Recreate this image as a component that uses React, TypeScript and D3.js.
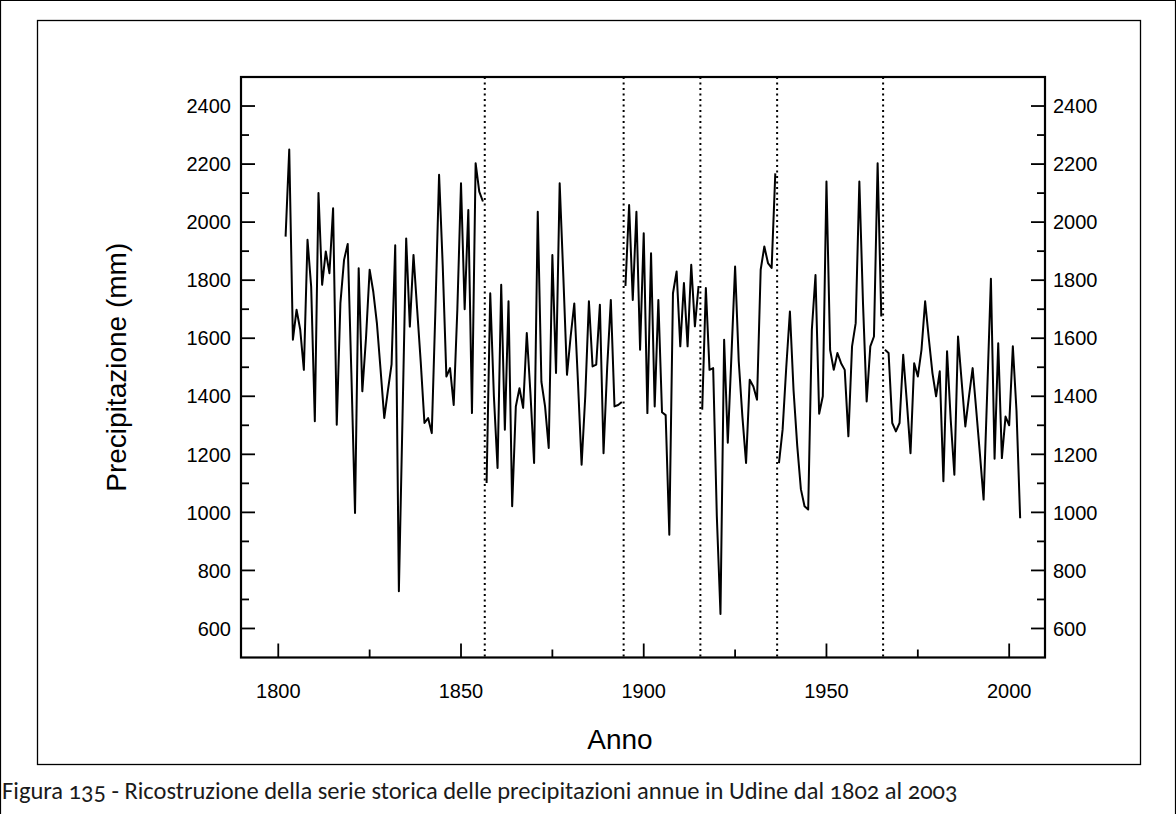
import React from "react";
import * as d3 from "d3";

// Annual precipitation (mm), Udine; the series is broken at the dotted lines
const seg1Start = 1802;
const seg1Values = [
  1950, 2250, 1595, 1698, 1630, 1491, 1939, 1778, 1314, 2100,
  1784, 1899, 1824, 2048, 1302, 1721, 1870, 1925, 1480, 998,
  1841, 1417, 1600, 1836, 1760, 1650, 1490, 1325, 1420, 1510,
  1920, 728, 1330, 1944, 1640, 1887, 1700, 1514, 1308, 1325,
  1273, 1700, 2163, 1850, 1468, 1497, 1370, 1700, 2134, 1700,
  2042, 1342, 2203, 2105, 2071,
];
const seg2Start = 1857;
const seg2Values = [
  1101, 1755, 1400, 1153, 1784, 1285, 1727, 1021, 1365, 1428,
  1360, 1618, 1410, 1170, 2036, 1450, 1365, 1222, 1887, 1480,
  2134, 1813, 1474, 1606, 1720, 1450, 1164, 1400, 1727, 1503,
  1509, 1715, 1204, 1500, 1732, 1365, 1370, 1380,
];
const seg3Start = 1895;
const seg3Values = [
  1780, 2059, 1732, 2036, 1560, 1962, 1342, 1893, 1365, 1732,
  1345, 1335, 923, 1755, 1830, 1572, 1790, 1572, 1853, 1641,
  1780,
];
const seg4Start = 1916;
const seg4Values = [
  1354, 1773, 1491, 1497, 987, 650, 1595, 1240, 1540, 1847,
  1520, 1330, 1170, 1457, 1434, 1388, 1836, 1916, 1859, 1842,
  2168,
];
const seg5Start = 1937;
const seg5Values = [
  1170, 1285, 1500, 1692, 1420, 1230, 1080, 1021, 1010, 1629,
  1818, 1340, 1400, 2140, 1560, 1491, 1549, 1514, 1491, 1262,
  1572, 1652, 2140, 1720, 1382, 1572, 1606, 2203, 1675,
];
const seg6Start = 1966;
const seg6Values = [
  1560, 1549, 1308, 1279, 1308, 1543, 1380, 1204, 1514, 1468,
  1560, 1727, 1600, 1480, 1400, 1486, 1107, 1555, 1319, 1130,
  1606, 1450, 1296, 1400, 1497, 1350, 1200, 1044, 1420, 1805,
  1185, 1583, 1187, 1330, 1300, 1572, 1350, 980,
];

const segmentStarts = [seg1Start, seg2Start, seg3Start, seg4Start, seg5Start, seg6Start];
const segmentValues = [seg1Values, seg2Values, seg3Values, seg4Values, seg5Values, seg6Values];

// Breakpoint years (dotted verticals)
const breakYears = [1856.5, 1894.5, 1915.5, 1936.5, 1965.5];

const xMajorTicks = [1800, 1850, 1900, 1950, 2000];
const xMinorTicks = [1825, 1875, 1925, 1975];
const yMajorTicks = [600, 800, 1000, 1200, 1400, 1600, 1800, 2000, 2200, 2400];
const yMinorTicks = [700, 900, 1100, 1300, 1500, 1700, 1900, 2100, 2300];

const yTitle = "Precipitazione (mm)";
const xTitle = "Anno";
const caption =
  "Figura 135 - Ricostruzione della serie storica delle precipitazioni annue in Udine dal 1802 al 2003";

export default function App() {
  const W = 1176;
  const H = 814;
  const plot = { left: 241, right: 1045, top: 77, bottom: 657.5 };

  const x = d3.scaleLinear().domain([1789.8, 2009.8]).range([plot.left, plot.right]);
  const y = d3.scaleLinear().domain([500, 2500]).range([plot.bottom, plot.top]);

  const line = d3
    .line<[number, number]>()
    .x((d) => x(d[0]))
    .y((d) => y(d[1]));

  const segments = segmentValues.map((vals, i) =>
    vals.map((v, j) => [segmentStarts[i] + j, v] as [number, number])
  );

  const tickFont = "'Liberation Sans', Arial, sans-serif";
  const majorLen = 14;
  const minorLen = 8;

  return (
    <svg
      width={W}
      height={H}
      viewBox={`0 0 ${W} ${H}`}
      style={{ position: "absolute", left: 0, top: 0, display: "block", background: "#fff" }}
    >
      <rect x={0} y={0} width={W} height={H} fill="#fff" />
      {/* page border */}
      <path d={`M0.5,${H} V0.5 H${W - 0.5} V${H}`} fill="none" stroke="#000" strokeWidth={1.2} />
      {/* inner figure box */}
      <rect x={37.5} y={20.5} width={1103} height={744} fill="none" stroke="#000" strokeWidth={1.3} />

      {/* dotted break lines */}
      {breakYears.map((b) => (
        <line
          key={`b${b}`}
          x1={x(b)}
          x2={x(b)}
          y1={plot.top}
          y2={plot.bottom}
          stroke="#000"
          strokeWidth={2}
          strokeDasharray="2 3.5"
        />
      ))}

      {/* data line */}
      {segments.map((seg, i) => (
        <path
          key={`s${i}`}
          d={line(seg) || ""}
          fill="none"
          stroke="#000"
          strokeWidth={2}
          strokeLinejoin="round"
        />
      ))}

      {/* frame */}
      <rect
        x={plot.left}
        y={plot.top}
        width={plot.right - plot.left}
        height={plot.bottom - plot.top}
        fill="none"
        stroke="#000"
        strokeWidth={2.2}
      />

      {/* x ticks */}
      {xMajorTicks.map((t) => (
        <g key={`xm${t}`}>
          <line x1={x(t)} x2={x(t)} y1={plot.bottom} y2={plot.bottom - majorLen} stroke="#000" strokeWidth={1.8} />
          <text x={x(t)} y={698} textAnchor="middle" fontFamily={tickFont} fontSize={20} fill="#000">
            {t}
          </text>
        </g>
      ))}
      {xMinorTicks.map((t) => (
        <line key={`xn${t}`} x1={x(t)} x2={x(t)} y1={plot.bottom} y2={plot.bottom - minorLen} stroke="#000" strokeWidth={1.8} />
      ))}

      {/* y ticks left & right */}
      {yMajorTicks.map((t) => (
        <g key={`ym${t}`}>
          <line x1={plot.left} x2={plot.left + majorLen} y1={y(t)} y2={y(t)} stroke="#000" strokeWidth={1.8} />
          <line x1={plot.right} x2={plot.right - majorLen} y1={y(t)} y2={y(t)} stroke="#000" strokeWidth={1.8} />
          <text x={231} y={y(t)} dy="0.36em" textAnchor="end" fontFamily={tickFont} fontSize={20} fill="#000">
            {t}
          </text>
          <text x={1053} y={y(t)} dy="0.36em" textAnchor="start" fontFamily={tickFont} fontSize={20} fill="#000">
            {t}
          </text>
        </g>
      ))}
      {yMinorTicks.map((t) => (
        <g key={`yn${t}`}>
          <line x1={plot.left} x2={plot.left + minorLen} y1={y(t)} y2={y(t)} stroke="#000" strokeWidth={1.8} />
          <line x1={plot.right} x2={plot.right - minorLen} y1={y(t)} y2={y(t)} stroke="#000" strokeWidth={1.8} />
        </g>
      ))}

      {/* axis titles */}
      <text
        transform={`translate(126, ${(plot.top + plot.bottom) / 2}) rotate(-90)`}
        textAnchor="middle"
        fontFamily={tickFont}
        fontSize={28}
        fill="#000"
      >
        {yTitle}
      </text>
      <text x={620} y={749} textAnchor="middle" fontFamily={tickFont} fontSize={28} fill="#000">
        {xTitle}
      </text>

      {/* caption */}
      <text
        x={2}
        y={799}
        fontFamily="Carlito, Lato, 'Open Sans', sans-serif"
        fontSize={24.5}
        fill="#1a1a1a"
        style={{ fontVariantNumeric: "oldstyle-nums" }}
      >
        {caption}
      </text>
    </svg>
  );
}
